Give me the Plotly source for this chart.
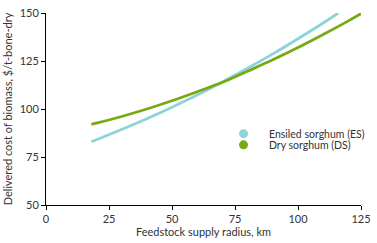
import plotly.graph_objects as go

radius_es = [18, 20, 30, 40, 50, 60, 70, 80, 90, 100, 110, 116]
cost_es = [83.0, 84.0, 89.3, 94.9, 100.9, 107.3, 114.1, 121.2, 128.7, 136.6, 144.8, 150.0]
radius_ds = [18, 20, 30, 40, 50, 60, 70, 80, 90, 100, 110, 120, 125]
cost_ds = [92.0, 92.6, 96.1, 100.0, 104.3, 109.0, 113.9, 119.7, 125.6, 132.0, 138.8, 145.9, 149.7]
x_ticks = [0, 25, 50, 75, 100, 125]
y_ticks = [50, 75, 100, 125, 150]
legend_names = ["Ensiled sorghum (ES)", "Dry sorghum (DS)"]

c_es = "#8CD3DA"
c_ds = "#77A916"
font = "Lato"
txt = "#333333"
fs = 11

fig = go.Figure()
fig.add_trace(go.Scatter(x=radius_es, y=cost_es, mode="lines", line=dict(color=c_es, width=2.8, shape="spline"), showlegend=False, hoverinfo="skip"))
fig.add_trace(go.Scatter(x=radius_ds, y=cost_ds, mode="lines", line=dict(color=c_ds, width=2.8, shape="spline"), showlegend=False, hoverinfo="skip"))

leg_y = [0.3715, 0.3135]
for name, col, yy in zip(legend_names, [c_es, c_ds], leg_y):
    fig.add_shape(type="circle", xref="paper", yref="paper", xsizemode="pixel", ysizemode="pixel",
                  xanchor=0.627, yanchor=yy, x0=-4.5, x1=4.5, y0=-4.5, y1=4.5,
                  fillcolor=col, line=dict(width=0))
    fig.add_annotation(x=0.705, y=yy, xref="paper", yref="paper", text=name, showarrow=False,
                       xanchor="left", yanchor="middle", borderpad=0,
                       font=dict(family=font, size=10.5, color=txt))

fig.update_layout(
    width=377, height=243,
    margin=dict(l=46, r=11, t=6, b=37),
    paper_bgcolor="white", plot_bgcolor="white",
    font=dict(family=font, size=fs, color=txt),
    showlegend=False,
)
fig.update_xaxes(range=[0, 125], tickvals=x_ticks, showline=True, linecolor="black", linewidth=1,
                 ticks="outside", ticklen=4, tickcolor="black", showgrid=False, zeroline=False,
                 ticklabeloverflow="allow",
                 title=dict(text="Feedstock supply radius, km", standoff=4, font=dict(size=fs)))
fig.update_yaxes(range=[50, 150], tickvals=y_ticks, showline=True, linecolor="black", linewidth=1,
                 ticks="outside", ticklen=4, tickcolor="black", showgrid=False, zeroline=False,
                 ticklabeloverflow="allow",
                 title=dict(text="Delivered cost of biomass, $/t-bone-dry", standoff=4, font=dict(size=fs)))
fig.write_html("out.html", config={"displayModeBar": False},
               post_script="document.body.style.margin='0';document.body.style.padding='0';")
